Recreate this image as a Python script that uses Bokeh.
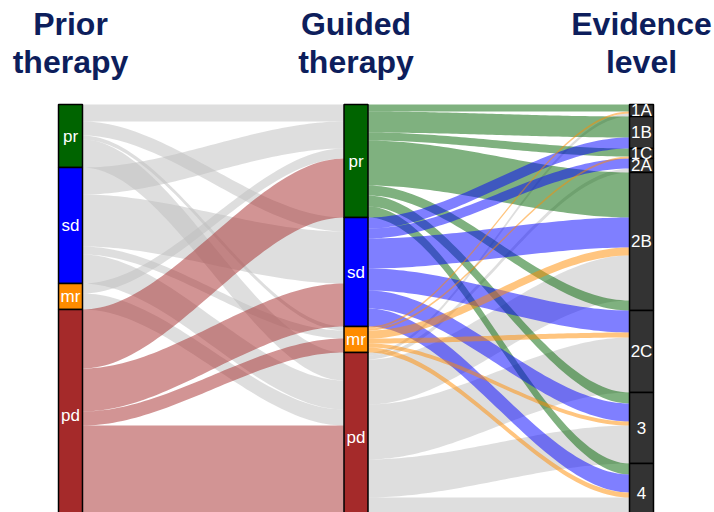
import numpy as np
from bokeh.plotting import figure
from bokeh.models import Range1d, ColumnDataSource
from bokeh.embed import file_html
from bokeh.resources import INLINE
from bokeh.core.properties import value

# ---------------- data ----------------
axis_titles = [["Prior", "therapy"], ["Guided", "therapy"], ["Evidence", "level"]]
prior_levels = ["pr", "sd", "mr", "pd"]
guided_levels = ["pr", "sd", "mr", "pd"]
evidence_levels = ["1A", "1B", "1C", "2A", "2B", "2C", "3", "4"]

# prior therapy -> guided therapy (relative sizes)
f1_source = ["pr", "sd", "mr", "pd", "pr", "sd", "pd", "pr", "sd", "pd", "pr", "sd", "mr", "pd"]
f1_target = ["pr", "pr", "pr", "pr", "sd", "sd", "sd", "mr", "mr", "mr", "pd", "pd", "pd", "pd"]
f1_value = [17, 27, 10, 59, 14, 52, 43, 4, 8, 14, 28, 29, 16, 96]

# guided therapy -> evidence level (relative sizes)
f2_source = ["pr", "mr", "pd",
             "pr", "sd",
             "pr", "mr",
             "sd", "pd",
             "pr", "sd", "mr", "pd", "pr",
             "sd", "mr", "pd",
             "pr", "sd", "mr", "pd",
             "pr", "sd", "mr", "pd"]
f2_target = ["1A", "1A", "1A",
             "1B", "1B",
             "1C", "1C",
             "2A", "2A",
             "2B", "2B", "2B", "2B", "2B",
             "2C", "2C", "2C",
             "3", "3", "3", "3",
             "4", "4", "4", "4"]
f2_value = [7, 2, 3,
            21, 11,
            8, 2,
            10, 4,
            45, 30, 8, 45, 10,
            22, 5, 55,
            11, 18, 4, 38,
            11, 18, 5, 24]

therapy_fill = {"pr": "#006400", "sd": "#0000FF", "mr": "#FF8C00", "pd": "#A52A2A"}
evidence_fill = "#333333"

# ---------------- layout helpers ----------------
W = 0.084  # stratum width in axis units
TOP = 104.0  # pixels above first stratum (y data: 0 at top of strata, downward)


def stack(levels, sources, values):
    tot = {l: 0.0 for l in levels}
    for s, v in zip(sources, values):
        tot[s] += v
    start, y = {}, 0.0
    for l in levels:
        start[l] = y
        y += tot[l]
    return start, tot


def flows(src_levels, tgt_levels, src, tgt, val):
    s_start, _ = stack(src_levels, src, val)
    t_start, _ = stack(tgt_levels, tgt, val)
    s_off = dict(s_start)
    t_off = dict(t_start)
    out = []
    for s, t, v in zip(src, tgt, val):
        out.append((s, t, s_off[s], s_off[s] + v, t_off[t], t_off[t] + v))
        s_off[s] += v
        t_off[t] += v
    return out


def ribbon(x0, x1, a_top, a_bot, b_top, b_bot, n=60):
    t = np.linspace(0, 1, n)
    s = t * t * (3 - 2 * t)
    xs = x0 + (x1 - x0) * t
    top = a_top + (b_top - a_top) * s
    bot = a_bot + (b_bot - a_bot) * s
    return list(np.concatenate([xs, xs[::-1]])), list(np.concatenate([top, bot[::-1]]))


p = figure(width=714, height=512, output_backend="svg", toolbar_location=None,
           min_border=0, min_border_left=0, min_border_right=0,
           min_border_top=0, min_border_bottom=0,
           x_range=Range1d(1 - 70 / 285.5, 1 + 644 / 285.5),
           y_range=Range1d(512 - TOP, -TOP))
p.axis.visible = False
p.xgrid.visible = False
p.ygrid.visible = False
p.outline_line_color = None
p.background_fill_color = "white"
p.border_fill_color = "white"

# ---- flows 1 -> 2
fl1 = flows(prior_levels, guided_levels, f1_source, f1_target, f1_value)
groups = {"gray": ([], []), "red": ([], [])}
for s, t, a0, a1, b0, b1 in fl1:
    xs, ys = ribbon(1 + W / 2, 2 - W / 2, a0, a1, b0, b1)
    g = "red" if s == "pd" else "gray"
    groups[g][0].append(xs)
    groups[g][1].append(ys)
p.patches(groups["gray"][0], groups["gray"][1], fill_color="#BEBEBE", fill_alpha=0.5, line_color=None)
p.patches(groups["red"][0], groups["red"][1], fill_color="#A52A2A", fill_alpha=0.5, line_color=None)

# ---- flows 2 -> 3
fl2 = flows(guided_levels, evidence_levels, f2_source, f2_target, f2_value)
col2 = {"pd": ("#BEBEBE", 0.5), "pr": ("#006400", 0.5), "sd": ("#0000FF", 0.5), "mr": ("#FF8C00", 0.5)}
for key in ["pd", "pr", "sd", "mr"]:
    X, Y = [], []
    for s, t, a0, a1, b0, b1 in fl2:
        if s != key:
            continue
        xs, ys = ribbon(2 + W / 2, 3 - W / 2, a0, a1, b0, b1)
        X.append(xs)
        Y.append(ys)
    c, a = col2[key]
    p.patches(X, Y, fill_color=c, fill_alpha=a, line_color=None)

# ---- strata
def draw_strata(xc, levels, sources, values, fills):
    start, tot = stack(levels, sources, values)
    src = ColumnDataSource(dict(
        left=[xc - W / 2] * len(levels), right=[xc + W / 2] * len(levels),
        top=[start[l] for l in levels], bottom=[start[l] + tot[l] for l in levels],
        fill=[fills(l) for l in levels],
        cy=[start[l] + tot[l] / 2 for l in levels], cx=[xc] * len(levels),
        lab=levels))
    p.quad(left="left", right="right", top="top", bottom="bottom", fill_color="fill",
           line_color="black", line_width=1.5, source=src)
    p.text(x="cx", y="cy", text="lab", source=src, text_color="white",
           text_font=value("Liberation Sans"), text_font_size="17px",
           text_align="center", text_baseline="middle")


draw_strata(1, prior_levels, f1_source, f1_value, lambda l: therapy_fill[l])
draw_strata(2, guided_levels, f1_target, f1_value, lambda l: therapy_fill[l])
draw_strata(3, evidence_levels, f2_target, f2_value, lambda l: evidence_fill)

# ---- axis titles
for i, lines in enumerate(axis_titles):
    for j, line in enumerate(lines):
        p.text(x=[i + 1], y=[-81 + 38 * j], text=[line], text_color="#0D1E5C",
               text_font=value("Liberation Sans"), text_font_style="bold",
               text_font_size="32px", text_align="center", text_baseline="alphabetic")

open("out.html", "w").write(file_html(p, INLINE))
